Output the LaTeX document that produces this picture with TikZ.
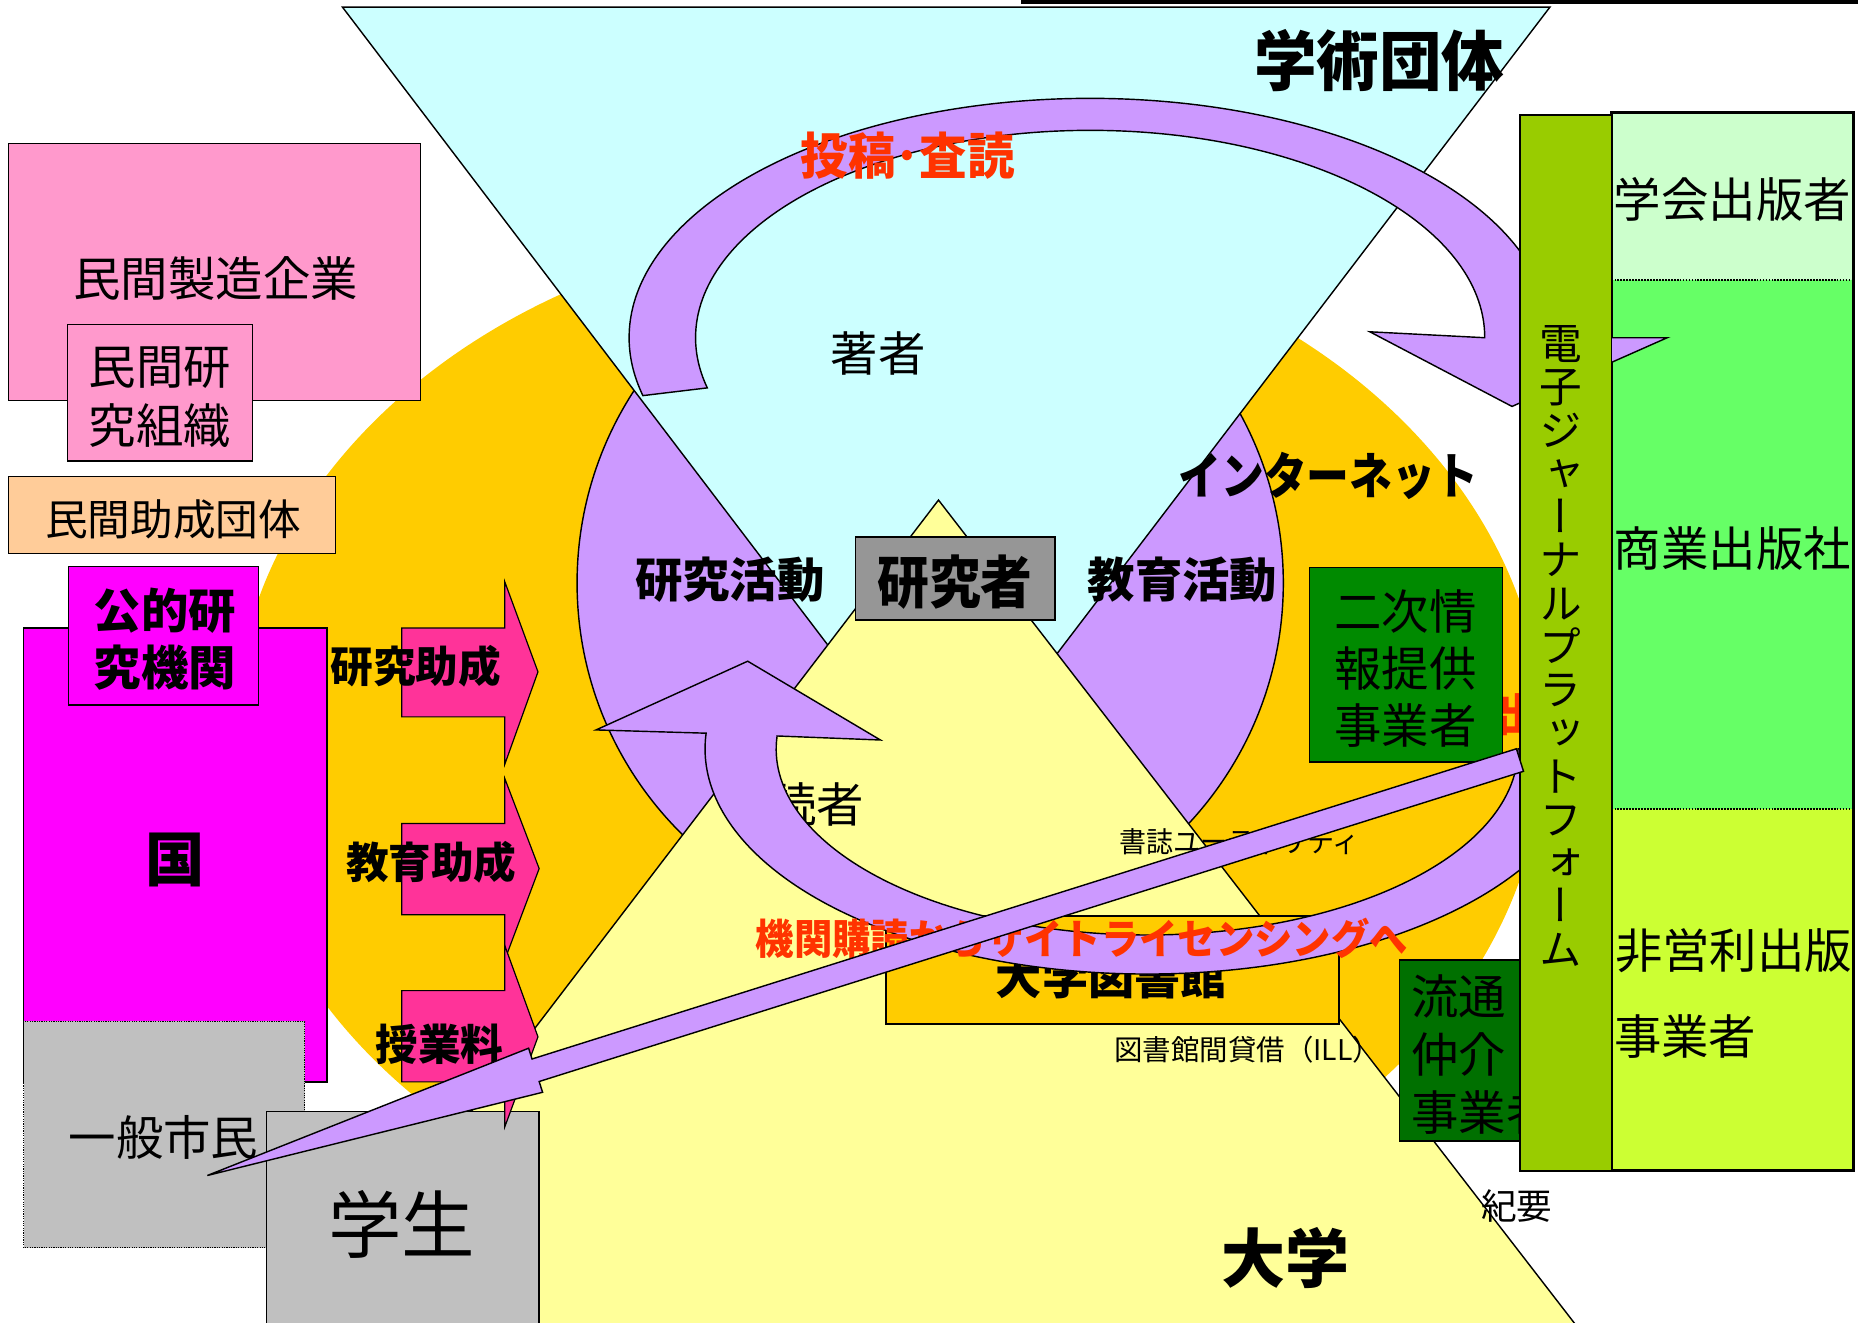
\documentclass[tikz,border=0pt]{standalone}
\usepackage{fontspec}
\usepackage{tikz}
\setmainfont{Noto Sans CJK JP}
\newfontfamily\jpv[RawFeature=+vert]{Noto Sans CJK JP}
\definecolor{orangebg}{HTML}{FFCC00}
\definecolor{lilac}{HTML}{CC99FF}
\definecolor{cyanbg}{HTML}{CCFFFF}
\definecolor{yellowbg}{HTML}{FFFF99}
\definecolor{pinkbox}{HTML}{FF99CC}
\definecolor{peach}{HTML}{FFCC99}
\definecolor{magentabox}{HTML}{FF00FF}
\definecolor{graybox}{HTML}{C0C0C0}
\definecolor{arrowpink}{HTML}{FF3399}
\definecolor{darkgraybox}{HTML}{969696}
\definecolor{greenA}{HTML}{008A00}
\definecolor{greenB}{HTML}{007000}
\definecolor{platg}{HTML}{99CC00}
\definecolor{paleg}{HTML}{CCFFCC}
\definecolor{brightg}{HTML}{66FF66}
\definecolor{limeg}{HTML}{CCFF33}
\definecolor{redtxt}{HTML}{FF3300}
\newcommand{\jf}[2]{\fontsize{#1}{#2}\selectfont}
\newcommand{\nrw}[2]{\scalebox{#1}[1]{#2}}
\tikzset{>=stealth}

\begin{document}
\begin{tikzpicture}[x=1pt,y=-1pt,
    shapeline/.style={draw=black,line width=1.2pt},
    pinkarrow/.style={fill=arrowpink,draw=black,line width=1pt},
    lilacarrow/.style={fill=lilac,draw=black,line width=1.2pt},
    lbl/.style={inner sep=0pt}]
      \useasboundingbox (0,0) rectangle (1568,1116);
      \clip (0,0) rectangle (1568,1116);
      \fill[orangebg] (750,625) ellipse [x radius=553pt, y radius=435pt];
      \draw[shapeline,fill=lilac] (785,492) circle [radius=298pt];
      \draw[shapeline,fill=cyanbg] (289,6) -- (1308,6) -- (798,675) -- cycle;
      \draw[shapeline,fill=yellowbg] (792,422) -- (1339,1130) -- (251,1130) -- cycle;
      \draw[line width=3pt] (862,1.5) -- (1568,1.5);

      \draw[shapeline,fill=pinkbox] (7,121) rectangle (355,338);
      \node[lbl,font=\jf{40}{40}] (industry) at (182,235) {民間製造企業};
      \draw[shapeline,fill=pinkbox] (57,274) rectangle (213,389);
      \node[lbl,font=\jf{40}{50},align=center] (privlab) at (135,335) {民間研\\究組織};
      \draw[shapeline,fill=peach] (7,402) rectangle (283,467);
      \node[lbl,font=\jf{36}{36}] (privfund) at (146,438) {民間助成団体};
      \draw[shapeline,fill=magentabox] (20,530) rectangle (276,913);
      \node[lbl,font={\bfseries\jf{50}{50}}] (nation) at (148,726) {国};
      \draw[shapeline,fill=magentabox] (58,478) rectangle (218,595);
      \node[lbl,font={\bfseries\jf{40}{48}},align=center] (publab) at (139,539) {公的研\\究機関};
      \draw[densely dotted,line width=1pt,fill=graybox] (20,862) rectangle (257,1053);
      \node[lbl,font=\jf{40}{40}] (citizen) at (138,960) {一般市民};
      \draw[shapeline,fill=graybox] (225,938) rectangle (455,1130);
      \node[lbl,font=\jf{62}{62}] (student) at (339,1033) {学生};

      \draw[pinkarrow] (339,530) -- (426,530) -- (426,491) -- (454,567) -- (426,645) -- (426,605) -- (339,605) -- cycle;
      \draw[pinkarrow] (339,695) -- (426,695) -- (426,657) -- (455,733) -- (426,810) -- (426,772) -- (339,772) -- cycle;
      \draw[pinkarrow] (339,836) -- (426,836) -- (426,798) -- (454,875) -- (426,951) -- (426,913) -- (339,913) -- cycle;
      \node[lbl,font={\bfseries\jf{36}{36}}] (resgrant) at (351,562) {研究助成};
      \node[lbl,font={\bfseries\jf{36}{36}}] (edugrant) at (364,728) {教育助成};
      \node[lbl,font={\bfseries\jf{36}{36}}] (tuition) at (371,881) {授業料};

      \node[lbl,font={\bfseries\jf{55}{55}}] (academic) at (1164,51) {\nrw{0.96}{学術団体}};
      \node[lbl,font=\jf{40}{40}] (author) at (741,298) {著者};
      \node[lbl,font={\bfseries\jf{40}{40}}] (research) at (616,489) {研究活動};
      \draw[line width=1.5pt,fill=darkgraybox] (722,453) rectangle (890,523);
      \node[lbl,font={\bfseries\jf{48}{48}}] (researcher) at (806,491) {\nrw{0.91}{研究者}};
      \node[lbl,font={\bfseries\jf{40}{40}}] (education) at (998,489) {教育活動};
      \node[lbl,font={\bfseries\jf{42}{42}}] (internet) at (1121,402) {\nrw{0.86}{インターネット}};
      \node[lbl,font=\jf{40}{40}] (reader) at (689,679) {読者};
      \node[lbl,font=\jf{24}{24}] (biblio) at (1046,710) {\nrw{0.95}{書誌ユーティリティ}};
      \draw[line width=1.8pt,fill=orangebg] (748,773) rectangle (1130,864);
      \node[lbl,font={\bfseries\jf{39}{39}}] (library) at (938,824) {大学図書館};
      \node[lbl,font=\jf{24}{24}] (ill) at (1053,886) {図書館間貸借（ILL）};
      \node[lbl,font=\jf{30}{30}] (kiyou) at (1280,1018) {紀要};
      \node[lbl,font={\bfseries\jf{54}{54}}] (university) at (1085,1062) {大学};

      \node[lbl,font={\bfseries\jf{38}{38}},text=redtxt,anchor=west] (redfrag) at (1263,603) {出};
      \draw[shapeline,fill=greenA] (1105,479) rectangle (1268,643);
      \node[lbl,font=\jf{40}{48},align=center] (secondary) at (1186,564) {二次情\\報提供\\事業者};
      \draw[shapeline,fill=greenB] (1181,810) rectangle (1300,963);
      \node[lbl,font=\jf{40}{49},align=left,anchor=west] (distrib) at (1191,890) {流通\\仲介\\事業者};

      \fill[paleg] (1360,95) rectangle (1564,236);
      \fill[brightg] (1360,236) rectangle (1564,683);
      \fill[limeg] (1360,683) rectangle (1564,988);
      \draw[densely dotted,line width=1.5pt] (1360,236) -- (1564,236);
      \draw[densely dotted,line width=1.5pt] (1360,683) -- (1564,683);
      \draw[line width=2.8pt] (1360,95) rectangle (1564,988);
      \node[lbl,font=\jf{40}{40}] (society) at (1462,168) {学会出版者};
      \node[lbl,font=\jf{40}{40}] (commercial) at (1462,463) {商業出版社};
      \node[lbl,font=\jf{40}{40}] (nonprofit) at (1463,802) {非営利出版};
      \node[lbl,font=\jf{40}{40},anchor=west] (nonprofitb) at (1362,875) {事業者};

      \draw[lilacarrow] (920,285) ++(194:389pt and 202pt)
        arc[start angle=194, end angle=0, x radius=389pt, y radius=202pt]
        -- (1407,285) -- (1276,343) -- (1156,280) -- (1253,285)
        arc[start angle=0, end angle=194, x radius=333pt, y radius=175pt] -- cycle;
      \node[lbl,font={\bfseries\jf{42}{42}},text=redtxt] (submit) at (766,131) {\nrw{0.955}{投稿･査読}};

      \draw[lilacarrow] (968,632) ++(0:373pt and 190pt)
        arc[start angle=0, end angle=-184, x radius=373pt, y radius=190pt]
        -- (503,616) -- (631,558) -- (743,624.5) -- (655.8,621.1)
        arc[start angle=-184, end angle=0, x radius=313pt, y radius=157pt] -- cycle;
      \node[lbl,font={\bfseries\jf{35}{35}},text=redtxt] (subscription) at (913,792) {\nrw{0.925}{機関購読からサイトライセンシングへ}};

      \draw[line width=1.5pt,fill=platg] (1283,97) rectangle (1360,988);
      \node[lbl,font=\jpv\jf{36}{36.5},align=center] (platform) at (1317,545) {電\\子\\ジ\\ャ\\ー\\ナ\\ル\\プ\\ラ\\ッ\\ト\\フ\\ォ\\ー\\ム};

      \draw[lilacarrow] (1279.7,631.9) -- (449,893.7) -- (446.1,884.6) -- (175,992) -- (457.9,921.8) -- (455,912.7) -- (1285.7,650.9) -- cycle;
\end{tikzpicture}
\end{document}
